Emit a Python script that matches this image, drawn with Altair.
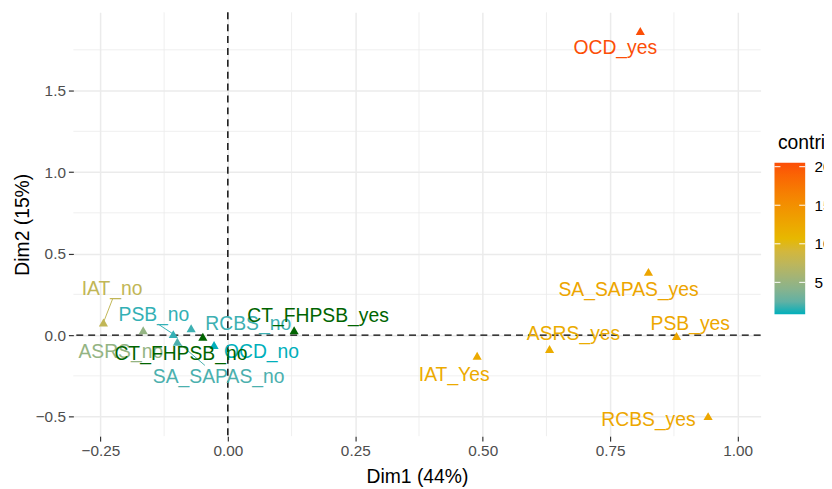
import altair as alt
import pandas as pd

# Active categories (MCA variable categories)
cats = ["IAT_no", "IAT_Yes", "ASRS_no", "ASRS_yes", "PSB_no", "PSB_yes",
        "SA_SAPAS_no", "SA_SAPAS_yes", "RCBS_no", "RCBS_yes", "OCD_no", "OCD_yes"]
dim1 = [-0.244, 0.489, -0.166, 0.631, -0.107, 0.880,
        -0.099, 0.825, -0.072, 0.942, -0.027, 0.809]
dim2 = [0.077, -0.127, 0.030, -0.085, 0.006, -0.006,
        -0.041, 0.388, 0.042, -0.497, -0.061, 1.865]
contrib = [7.7, 12.2, 4.8, 12.0, 1.3, 12.5,
           1.8, 12.8, 1.5, 12.5, 0.85, 20.5]
# repelled label positions (data units)
label_x = [-0.227, 0.444, -0.210, 0.678, -0.145, 0.907,
           -0.018, 0.786, 0.040, 0.825, 0.066, 0.760]
label_y = [0.283, -0.248, -0.105, 0.006, 0.123, 0.067,
           -0.256, 0.279, 0.067, -0.519, -0.105, 1.758]

# Supplementary categories
sup_cats = ["CT_FHPSB_no", "CT_FHPSB_yes"]
sup_dim1 = [-0.049, 0.130]
sup_dim2 = [-0.010, 0.030]
sup_label_x = [-0.092, 0.177]
sup_label_y = [-0.115, 0.117]

# repel segments (label end)
seg_cats = ["IAT_no", "PSB_no", "SA_SAPAS_no"]
seg_end_x = [-0.226, -0.136, -0.045]
seg_end_y = [0.222, 0.066, -0.186]

x_ticks = [-0.25, 0.0, 0.25, 0.5, 0.75, 1.0]
y_ticks = [-0.5, 0.0, 0.5, 1.0, 1.5]
x_minor = [-0.125, 0.125, 0.375, 0.625, 0.875]
y_minor = [-0.25, 0.25, 0.75, 1.25, 1.75]
legend_ticks = [5, 10, 15, 20]

active = pd.DataFrame({"cat": cats, "dim1": dim1, "dim2": dim2,
                       "contrib": contrib, "lx": label_x, "ly": label_y})
sup = pd.DataFrame({"cat": sup_cats, "dim1": sup_dim1, "dim2": sup_dim2,
                    "lx": sup_label_x, "ly": sup_label_y})
seg = pd.DataFrame({"cat": seg_cats, "ex": seg_end_x, "ey": seg_end_y}).merge(
    active[["cat", "dim1", "dim2", "contrib"]], on="cat")

FONT = "Liberation Sans"
PAL = ["#00AFBB", "#E7B800", "#FC4E07"]
W, H = 694, 428
CMIN, CMAX = min(contrib), max(contrib)


# --- Lab interpolation (same as d3/vega "lab") for the colourbar stops ---
def _lin(c):
    return c / 12.92 if c <= 0.04045 else ((c + 0.055) / 1.055) ** 2.4


def _delin(c):
    return 12.92 * c if c <= 0.0031308 else 1.055 * c ** (1 / 2.4) - 0.055


def hex2lab(h):
    r, g, b = [_lin(int(h[i:i + 2], 16) / 255) for i in (1, 3, 5)]
    x = (0.4360747 * r + 0.3850649 * g + 0.1430804 * b) / 0.96422
    y = (0.2225045 * r + 0.7168786 * g + 0.0606169 * b)
    z = (0.0139322 * r + 0.0971045 * g + 0.7141733 * b) / 0.82521
    f = lambda t: t ** (1 / 3) if t > 0.008856452 else t / 0.12841855 + 0.137931034
    fx, fy, fz = f(x), f(y), f(z)
    return 116 * fy - 16, 500 * (fx - fy), 200 * (fy - fz)


def lab2hex(L, a, b):
    fy = (L + 16) / 116
    fx, fz = fy + a / 500, fy - b / 200
    finv = lambda t: t ** 3 if t > 0.206896552 else 0.12841855 * (t - 0.137931034)
    x, y, z = 0.96422 * finv(fx), finv(fy), 0.82521 * finv(fz)
    r = _delin(3.1338561 * x - 1.6168667 * y - 0.4906146 * z)
    g = _delin(-0.9787684 * x + 1.9161415 * y + 0.0334540 * z)
    bb = _delin(0.0719453 * x - 0.2289914 * y + 1.4052427 * z)
    return "#" + "".join("%02x" % int(round(max(0, min(1, v)) * 255)) for v in (r, g, bb))


labs = [hex2lab(c) for c in PAL]
stops = []
NSTOP = 12
for i in range(NSTOP + 1):
    t = i / NSTOP
    seg_i = min(int(t * 2), 1)
    u = t * 2 - seg_i
    l0, l1 = labs[seg_i], labs[seg_i + 1]
    stops.append(alt.GradientStop(offset=t, color=lab2hex(*[l0[k] + (l1[k] - l0[k]) * u for k in range(3)])))

xs = alt.Scale(domain=[-0.303, 1.045], nice=False, zero=False)
ys = alt.Scale(domain=[-0.62, 1.98], nice=False, zero=False)
cs = alt.Scale(domain=[CMIN, CMAX], range=PAL, interpolate="lab")
ss = alt.Scale(domain=[CMIN, CMAX], range=PAL, interpolate="lab")

# colourbar scale: bar from y=152 (max) to y=305 (min) in plot pixels
BAR_TOP, BAR_BOT = 152, 305
BAR_L, BAR_R = 708, 739
ppu = (BAR_BOT - BAR_TOP) / (CMAX - CMIN)
ls = alt.Scale(domain=[CMIN - (H - BAR_BOT) / ppu, CMAX + BAR_TOP / ppu],
               nice=False, zero=False)

xaxis = alt.Axis(title="Dim1 (44%)", values=x_ticks, format=".2f", grid=True,
                 gridColor="#EBEBEB", gridWidth=1.5, domain=False, ticks=True,
                 tickColor="#333333", tickSize=5, tickWidth=1.2,
                 labelFont=FONT, labelFontSize=15.5, labelColor="#4D4D4D",
                 labelPadding=3, titleFont=FONT, titleFontSize=19.5,
                 titleFontWeight="normal", titleColor="#000000", titlePadding=8)
yaxis = alt.Axis(title="Dim2 (15%)", values=y_ticks, format=".1f", grid=True,
                 gridColor="#EBEBEB", gridWidth=1.5, domain=False, ticks=True,
                 tickColor="#333333", tickSize=5, tickWidth=1.2, orient="left",
                 labelFont=FONT, labelFontSize=15.5, labelColor="#4D4D4D",
                 labelPadding=3, titleFont=FONT, titleFontSize=19.5,
                 titleFontWeight="normal", titleColor="#000000", titlePadding=3)
laxis = alt.Axis(orient="right", values=legend_ticks, offset=54, ticks=False,
                 domain=False, grid=False, labelPadding=0, labelFont=FONT,
                 labelFontSize=15.5, labelColor="#000000", title="contrib",
                 titleAngle=0, titleX=-37, titleY=138, titleAlign="left",
                 titleBaseline="alphabetic", titleFont=FONT, titleFontSize=19.5,
                 titleFontWeight="normal", titleColor="#000000")

color_enc = alt.Color("contrib:Q", scale=cs, legend=None)
base_x = alt.X("dim1:Q", scale=xs, axis=xaxis)
base_y = alt.Y("dim2:Q", scale=ys, axis=yaxis)

minor_v = alt.Chart(pd.DataFrame({"v": x_minor})).mark_rule(
    color="#EBEBEB", strokeWidth=0.8).encode(x=alt.X("v:Q", scale=xs, axis=xaxis))
minor_h = alt.Chart(pd.DataFrame({"v": y_minor})).mark_rule(
    color="#EBEBEB", strokeWidth=0.8).encode(y=alt.Y("v:Q", scale=ys, axis=yaxis))

zero_v = alt.Chart(pd.DataFrame({"v": [0.0]})).mark_rule(
    color="#000000", strokeDash=[7, 5], strokeWidth=1.4).encode(
    x=alt.X("v:Q", scale=xs, axis=xaxis))
zero_h = alt.Chart(pd.DataFrame({"v": [0.0]})).mark_rule(
    color="#000000", strokeDash=[7, 5], strokeWidth=1.4).encode(
    y=alt.Y("v:Q", scale=ys, axis=yaxis))

segs = alt.Chart(seg).mark_rule(strokeWidth=1).encode(
    x=alt.X("dim1:Q", scale=xs, axis=xaxis), y=alt.Y("dim2:Q", scale=ys, axis=yaxis),
    x2="ex:Q", y2="ey:Q", stroke=alt.Stroke("contrib:Q", scale=ss, legend=None))

pts = alt.Chart(active).mark_point(shape="triangle-up", filled=True, size=85,
                                   opacity=1).encode(x=base_x, y=base_y, color=color_enc)

labels = alt.Chart(active).mark_text(font=FONT, fontSize=19.5, align="center",
                                     baseline="middle").encode(
    x=alt.X("lx:Q", scale=xs, axis=xaxis), y=alt.Y("ly:Q", scale=ys, axis=yaxis),
    text="cat:N", color=color_enc)

sup_pts = alt.Chart(sup).mark_point(shape="triangle-up", filled=True, size=85,
                                    opacity=1, color="#006400").encode(x=base_x, y=base_y)
sup_labels = alt.Chart(sup).mark_text(font=FONT, fontSize=19.5, align="center",
                                      baseline="middle", color="#006400").encode(
    x=alt.X("lx:Q", scale=xs, axis=xaxis), y=alt.Y("ly:Q", scale=ys, axis=yaxis),
    text="cat:N")

main = alt.layer(minor_v, minor_h, zero_v, zero_h, segs, pts, labels,
                 sup_pts, sup_labels)

# colourbar legend (drawn through its own value scale)
bar = alt.Chart(pd.DataFrame({"lo": [CMIN], "hi": [CMAX]})).mark_rect(
    fill=alt.Gradient(gradient="linear", stops=stops, x1=0, x2=0, y1=1, y2=0)).encode(
    x=alt.value(BAR_L), x2=alt.value(BAR_R),
    y=alt.Y("lo:Q", scale=ls, axis=laxis), y2="hi:Q")
tick_df = pd.DataFrame({"t": legend_ticks})
bar_ticks_l = alt.Chart(tick_df).mark_rule(color="#FFFFFF", strokeWidth=1).encode(
    x=alt.value(BAR_L), x2=alt.value(BAR_L + 6), y=alt.Y("t:Q", scale=ls, axis=laxis))
bar_ticks_r = alt.Chart(tick_df).mark_rule(color="#FFFFFF", strokeWidth=1).encode(
    x=alt.value(BAR_R - 6), x2=alt.value(BAR_R), y=alt.Y("t:Q", scale=ls, axis=laxis))
legend_layer = alt.layer(bar, bar_ticks_l, bar_ticks_r)

chart = alt.layer(main, legend_layer).resolve_scale(y="independent").properties(
    width=W, height=H, autosize="none",
    padding={"left": 66, "top": 2, "right": 64, "bottom": 51},
    background="#FFFFFF"
).configure_view(stroke=None)

chart.save("out.html", embed_options={"renderer": "svg", "actions": False})
